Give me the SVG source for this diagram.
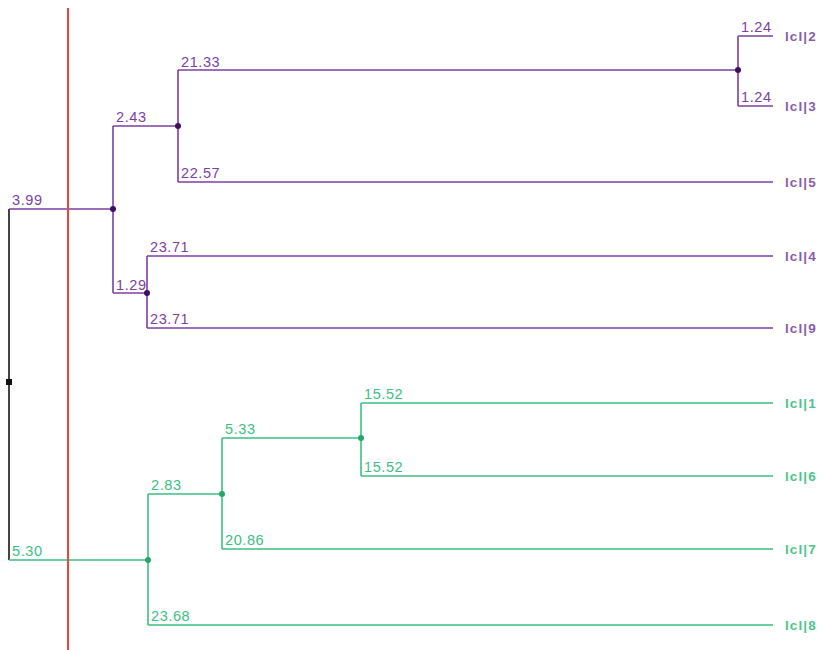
<svg xmlns="http://www.w3.org/2000/svg" width="823" height="650" viewBox="0 0 823 650">
<style>
.p{stroke:#7d3fa3;stroke-width:1.6;fill:none}
.g{stroke:#3cc082;stroke-width:1.6;fill:none}
.k{stroke:#444;stroke-width:2;fill:none}
.v{font-family:"Liberation Sans",Arial,sans-serif;font-size:14.5px;letter-spacing:0.6px}
.vp{fill:#7d3fa3}
.vg{fill:#3cc082}
.lf{font-family:"Liberation Sans",Arial,sans-serif;font-size:13.5px;font-weight:bold;letter-spacing:1.1px}
.lp{fill:#8a5cab}
.lg{fill:#4cc58a}
.dp{fill:#3d0f5e}
.dg{fill:#22a866}
</style>
<rect width="823" height="650" fill="#fff"/>
<g id="connectors">
<path class="k" d="M9,209 V560"/>
<path class="p" d="M9,209 H113 M113,126 V293 M113,126 H178 M178,70 V182 M178,70 H738 M738,36 V106 M738,36 H773 M738,106 H773 M178,182 H773 M113,293 H147 M147,256 V328 M147,256 H773 M147,328 H773"/>
<path class="g" d="M9,560 H148 M148,494 V625 M148,494 H222 M222,438 V549 M222,438 H361 M361,403 V476 M361,403 H773 M361,476 H773 M222,549 H773 M148,625 H773"/>
<line x1="68" y1="8" x2="68" y2="650" stroke="#f04040" stroke-width="2"/>
</g>
<g id="root"><rect x="6" y="379" width="6" height="6" fill="#111"/></g>
<g id="n1"><circle cx="113" cy="209" r="3" class="dp"/><text class="v vp" x="12" y="205">3.99</text></g>
<g id="n2"><circle cx="178" cy="126" r="3" class="dp"/><text class="v vp" x="116" y="122">2.43</text></g>
<g id="n3"><circle cx="738" cy="70" r="3" class="dp"/><text class="v vp" x="181" y="67">21.33</text></g>
<g id="n4"><circle cx="147" cy="293" r="3" class="dp"/><text class="v vp" x="116" y="290">1.29</text></g>
<g id="leaf2"><text class="v vp" x="741" y="32">1.24</text><text class="lf lp" x="785" y="41">lcl|2</text></g>
<g id="leaf3"><text class="v vp" x="741" y="102">1.24</text><text class="lf lp" x="785" y="111">lcl|3</text></g>
<g id="leaf5"><text class="v vp" x="181" y="178">22.57</text><text class="lf lp" x="785" y="187">lcl|5</text></g>
<g id="leaf4"><text class="v vp" x="150" y="252">23.71</text><text class="lf lp" x="785" y="261">lcl|4</text></g>
<g id="leaf9"><text class="v vp" x="150" y="324">23.71</text><text class="lf lp" x="785" y="333">lcl|9</text></g>
<g id="n5"><circle cx="148" cy="560" r="3" class="dg"/><text class="v vg" x="12" y="556">5.30</text></g>
<g id="n6"><circle cx="222" cy="494" r="3" class="dg"/><text class="v vg" x="151" y="490">2.83</text></g>
<g id="n7"><circle cx="361" cy="438" r="3" class="dg"/><text class="v vg" x="225" y="434">5.33</text></g>
<g id="leaf1"><text class="v vg" x="364" y="399">15.52</text><text class="lf lg" x="785" y="408">lcl|1</text></g>
<g id="leaf6"><text class="v vg" x="364" y="472">15.52</text><text class="lf lg" x="785" y="481">lcl|6</text></g>
<g id="leaf7"><text class="v vg" x="225" y="545">20.86</text><text class="lf lg" x="785" y="554">lcl|7</text></g>
<g id="leaf8"><text class="v vg" x="151" y="621">23.68</text><text class="lf lg" x="785" y="630">lcl|8</text></g>
</svg>
